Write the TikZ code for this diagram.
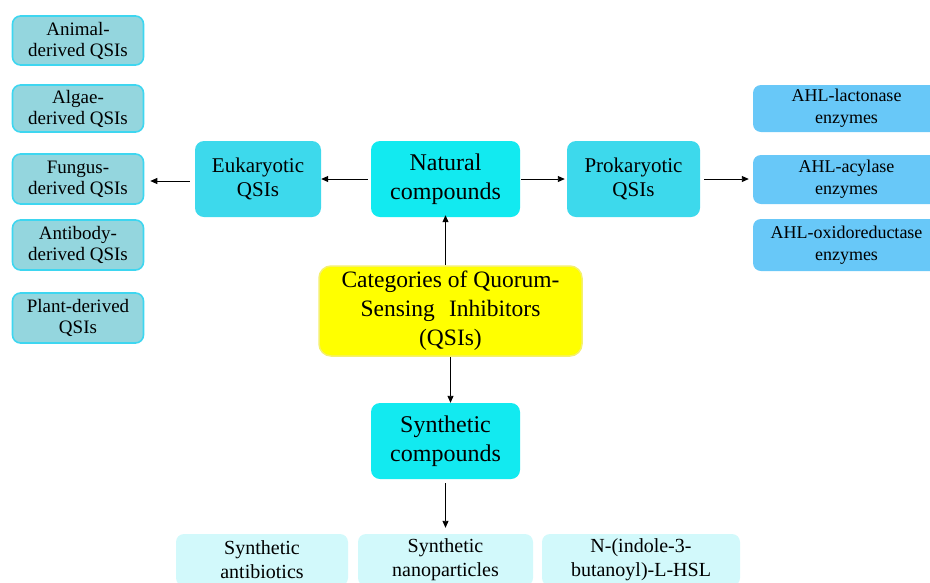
\documentclass[tikz,border=0pt]{standalone}
\usepackage{fontspec}
\setmainfont{Liberation Serif}
\usetikzlibrary{arrows.meta}
\definecolor{leftfill}{RGB}{148,214,222}
\definecolor{leftdraw}{RGB}{62,214,240}
\definecolor{midfill}{RGB}{61,217,236}
\definecolor{cyanfill}{RGB}{18,234,240}
\definecolor{rightfill}{RGB}{104,200,248}
\definecolor{yelfill}{RGB}{255,255,0}
\definecolor{yeldraw}{RGB}{245,240,110}
\definecolor{botfill}{RGB}{210,249,251}
\tikzset{
  box/.style={rectangle, rounded corners=9pt, align=center, inner sep=0pt, text=black},
  leftbox/.style={box, fill=leftfill, draw=leftdraw, line width=1.6pt, rounded corners=8pt,
    minimum width=131pt, font=\fontsize{19}{21}\selectfont},
  midbox/.style={box, fill=midfill, font=\fontsize{21}{24.5}\selectfont},
  cyanbox/.style={box, fill=cyanfill, font=\fontsize{24}{29}\selectfont},
  rightbox/.style={box, fill=rightfill, rounded corners=8pt, font=\fontsize{18}{22}\selectfont},
  botbox/.style={box, fill=botfill, rounded corners=8pt, font=\fontsize{20}{24}\selectfont},
  yelbox/.style={box, fill=yelfill, draw=yeldraw, line width=1.5pt, rounded corners=12pt,
    font=\fontsize{23.5}{29}\selectfont},
  arr/.style={draw=black, line width=0.9pt, -{Triangle[length=7pt,width=6pt]}}
}
\begin{document}
\begin{tikzpicture}[x=1pt,y=-1pt]
\useasboundingbox (0,0) rectangle (930,582);
\clip (0,0) rectangle (930,582);
% left boxes
\node[leftbox, minimum height=49pt] (animal) at (78,40.5) {Animal-\\derived QSIs};
\node[leftbox, minimum height=47pt] (algae) at (78,108.5) {Algae-\\derived QSIs};
\node[leftbox, minimum height=50pt] (fungus) at (78,179) {Fungus-\\derived QSIs};
\node[leftbox, minimum height=50pt] (antibody) at (78,245) {Antibody-\\derived QSIs};
\node[leftbox, minimum height=50pt] (plant) at (78,318) {Plant-derived\\QSIs};
% middle row
\node[midbox, minimum width=126pt, minimum height=76pt] (euk) at (258,179) {Eukaryotic\\QSIs};
\node[cyanbox, minimum width=149pt, minimum height=76pt] (nat) at (445.5,179) {Natural\\compounds};
\node[midbox, minimum width=133pt, minimum height=76pt] (prok) at (633.5,179) {Prokaryotic\\QSIs};
% right boxes
\node[rightbox, minimum width=187pt, minimum height=47pt] (lact) at (846.5,108.5) {AHL-lactonase\\enzymes};
\node[rightbox, minimum width=187pt, minimum height=49pt] (acyl) at (846.5,179.5) {AHL-acylase\\enzymes};
\node[rightbox, minimum width=187pt, minimum height=52pt] (oxid) at (846.5,245) {AHL-oxidoreductase\\enzymes};
% centre
\node[yelbox, minimum width=263pt, minimum height=90pt] (cat) at (450.5,311) {Categories of Quorum-\\Sensing\hspace{0.35em} Inhibitors\\(QSIs)};
\node[cyanbox, minimum width=149pt, minimum height=76pt] (syn) at (445.5,441) {Synthetic\\compounds};
% bottom boxes
\node[botbox, minimum width=172pt, minimum height=52pt] (anti) at (262,560) {Synthetic\\antibiotics};
\node[botbox, minimum width=175pt, minimum height=52pt] (nano) at (445.5,560) {Synthetic\\nanoparticles};
\node[botbox, minimum width=198pt, minimum height=52pt] (indole) at (641,560) {N-(indole-3-\\butanoyl)-L-HSL};
% arrows
\coordinate (ew) at ([yshift=-2pt]euk.west);
\draw[arr] ([xshift=-3pt]nat.west) -- (euk.east);
\draw[arr] ([xshift=-5pt]ew) -- ([xshift=6pt]ew -| fungus.east);
\draw[arr] ([xshift=1pt]nat.east) -- ([xshift=-2pt]prok.west);
\draw[arr] ([xshift=4pt]prok.east) -- ([xshift=-4pt]prok.east -| acyl.west);
\draw[arr] (nat.south |- cat.north) -- ([yshift=2pt]nat.south);
\draw[arr] (cat.south) -- (cat.south |- syn.north);
\draw[arr] ([yshift=-4pt]syn.south) -- ([yshift=6pt]nano.north);
\end{tikzpicture}
\end{document}
